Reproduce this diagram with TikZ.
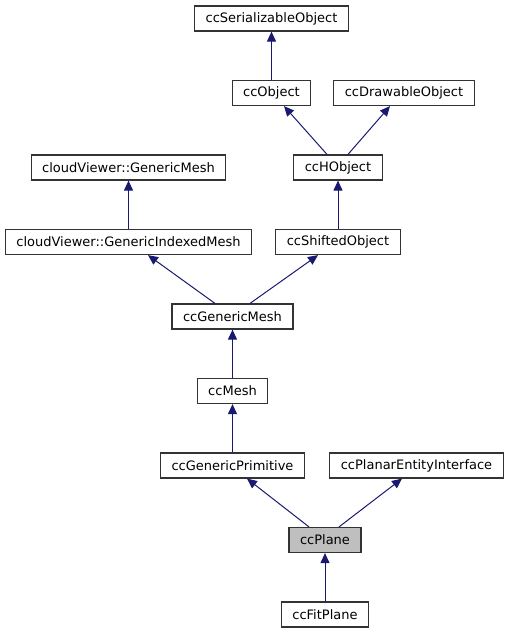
\documentclass[tikz,border=0pt]{standalone}
\usepackage{fontspec}
\setmainfont{DejaVu Sans}
\usetikzlibrary{arrows.meta}
\definecolor{edgec}{rgb}{0.1,0.1,0.44}
\definecolor{boxc}{rgb}{0.2,0.2,0.2}
\definecolor{curc}{rgb}{0.75,0.75,0.75}

\begin{document}
\begin{tikzpicture}[x=1pt, y=-1pt, node distance=74.5pt, font=\fontsize{13}{15}\selectfont,
  block/.style={rectangle, draw=boxc, line width=1.2pt, fill=white, minimum height=25pt, inner xsep=11pt, inner ysep=0pt},
  inherit/.style={draw=edgec, line width=1pt, -{Triangle[length=10pt, width=9pt]}}]

    \useasboundingbox (0,0) rectangle (509,635);

    \node[block] (ser) at (271.5,18.5) {ccSerializableObject};
    \node[block, below of=ser] (obj) {ccObject};
    \node[block, right of=obj, node distance=132.5pt] (draw) {ccDrawableObject};
    \node[block, below of=obj, xshift=66.5pt] (hobj) {ccHObject};
    \node[block, left of=hobj, node distance=209.5pt] (gm) {cloudViewer::GenericMesh};
    \node[block, below of=gm] (gim) {cloudViewer::GenericIndexedMesh};
    \node[block, below of=hobj] (shift) {ccShiftedObject};
    \node[block, below of=gim, xshift=104pt] (genmesh) {ccGenericMesh};
    \node[block, below of=genmesh] (mesh) {ccMesh};
    \node[block, below of=mesh] (prim) {ccGenericPrimitive};
    \node[block, right of=prim, node distance=184pt] (planar) {ccPlanarEntityInterface};
    \node[block, fill=curc, below of=prim, xshift=92.5pt] (plane) {ccPlane};
    \node[block, below of=plane] (fit) {ccFitPlane};

    \draw[inherit] (obj) -- (ser);
    \draw[inherit] ([xshift=-11pt]hobj.north) -- ([xshift=12.5pt]obj.south);
    \draw[inherit] ([xshift=10pt]hobj.north) -- ([xshift=-14pt]draw.south);
    \draw[inherit] (gim) -- (gm);
    \draw[inherit] (shift) -- (hobj);
    \draw[inherit] ([xshift=-17.5pt]genmesh.north) -- ([xshift=19.5pt]gim.south);
    \draw[inherit] ([xshift=17.5pt]genmesh.north) -- ([xshift=-20pt]shift.south);
    \draw[inherit] (mesh) -- (genmesh);
    \draw[inherit] (prim) -- (mesh);
    \draw[inherit] ([xshift=-16pt]plane.north) -- ([xshift=14.5pt]prim.south);
    \draw[inherit] ([xshift=14pt]plane.north) -- ([xshift=-14.5pt]planar.south);
    \draw[inherit] (fit) -- (plane);

  \end{tikzpicture}
\end{document}
